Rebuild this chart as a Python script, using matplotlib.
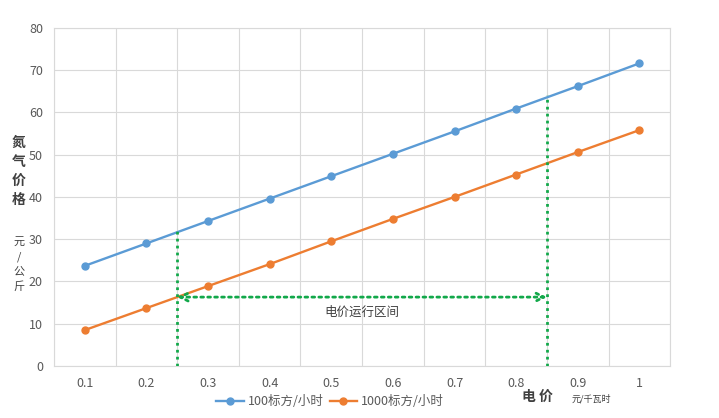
import numpy as np
import matplotlib.pyplot as plt

plt.rcParams['font.family'] = ['Noto Sans CJK SC', 'DejaVu Sans']

# 电价（元/千瓦时）与两种规格制氮的氮气价格（元/公斤）
dianjia = [0.1, 0.2, 0.3, 0.4, 0.5, 0.6, 0.7, 0.8, 0.9, 1.0]
xlabels = ['0.1', '0.2', '0.3', '0.4', '0.5', '0.6', '0.7', '0.8', '0.9', '1']
jiage_100 = [23.7, 29.0, 34.3, 39.6, 44.9, 50.2, 55.5, 60.9, 66.2, 71.6]
jiage_1000 = [8.5, 13.7, 18.9, 24.1, 29.5, 34.8, 40.0, 45.3, 50.6, 55.8]

# 电价运行区间
qujian_lo, qujian_hi = 0.25, 0.85
qujian_top = [31.9, 64.0]
jiantou_y = 16.3

lan = '#5B9BD5'
cheng = '#ED7D31'
lv = '#12A84A'
hui = '#595959'

fig = plt.figure(figsize=(7.19, 4.18), dpi=100)
ax = fig.add_axes([0.0751, 0.1244, 0.857, 0.809])

ax.plot(dianjia, jiage_100, color=lan, lw=1.7, marker='o', ms=5, label='100标方/小时', zorder=3)
ax.plot(dianjia, jiage_1000, color=cheng, lw=1.7, marker='o', ms=5, label='1000标方/小时', zorder=3)

ax.set_xlim(0.05, 1.05)
ax.set_ylim(0, 80)
ax.set_xticks(dianjia)
ax.set_xticklabels(xlabels)
ax.set_xticks(np.arange(0.05, 1.06, 0.1), minor=True)
ax.set_yticks(range(0, 81, 10))
ax.tick_params(which='both', length=0, labelsize=9, labelcolor=hui, pad=8)
ax.grid(which='minor', axis='x', color='#D9D9D9', lw=0.8)
ax.grid(which='major', axis='y', color='#D9D9D9', lw=0.8)
for s in ax.spines.values():
    s.set_color('#D9D9D9')
    s.set_linewidth(0.8)

# 区间竖线与双向箭头
ax.plot([qujian_lo, qujian_lo], [0, qujian_top[0]], color=lv, lw=2, ls=(0, (1, 1.5)), zorder=4)
ax.plot([qujian_hi, qujian_hi], [0, qujian_top[1]], color=lv, lw=2, ls=(0, (1, 1.5)), zorder=4)
ax.annotate('', xy=(qujian_lo, jiantou_y), xytext=(qujian_hi, jiantou_y),
            arrowprops=dict(arrowstyle='<->', color=lv, lw=2, ls=(0, (1, 1.5)),
                            mutation_scale=14, shrinkA=0, shrinkB=0), zorder=4)
ax.text(0.55, 12.6, '电价运行区间', ha='center', va='center', fontsize=9, color='#404040')

# 坐标轴标题
fig.text(0.026, 0.589, '氮\n气\n价\n格', ha='center', va='center', fontsize=10,
         color='#404040', fontweight='bold', linespacing=1.45)
fig.text(0.026, 0.368, '元\n/\n公\n斤', ha='center', va='center', fontsize=8,
         color='#404040', linespacing=1.55)
fig.text(0.748, 0.05, '电 价', ha='center', va='center', fontsize=10,
         color='#404040', fontweight='bold')
fig.text(0.822, 0.045, '元/千瓦时', ha='center', va='center', fontsize=6.5, color='#404040')

ax.legend(loc='center', bbox_to_anchor=(0.448, -0.105), ncol=2, frameon=False,
          fontsize=9, labelcolor=hui, handlelength=2.2, handletextpad=0.3,
          columnspacing=0.5)

fig.savefig('out.png', dpi=100)
